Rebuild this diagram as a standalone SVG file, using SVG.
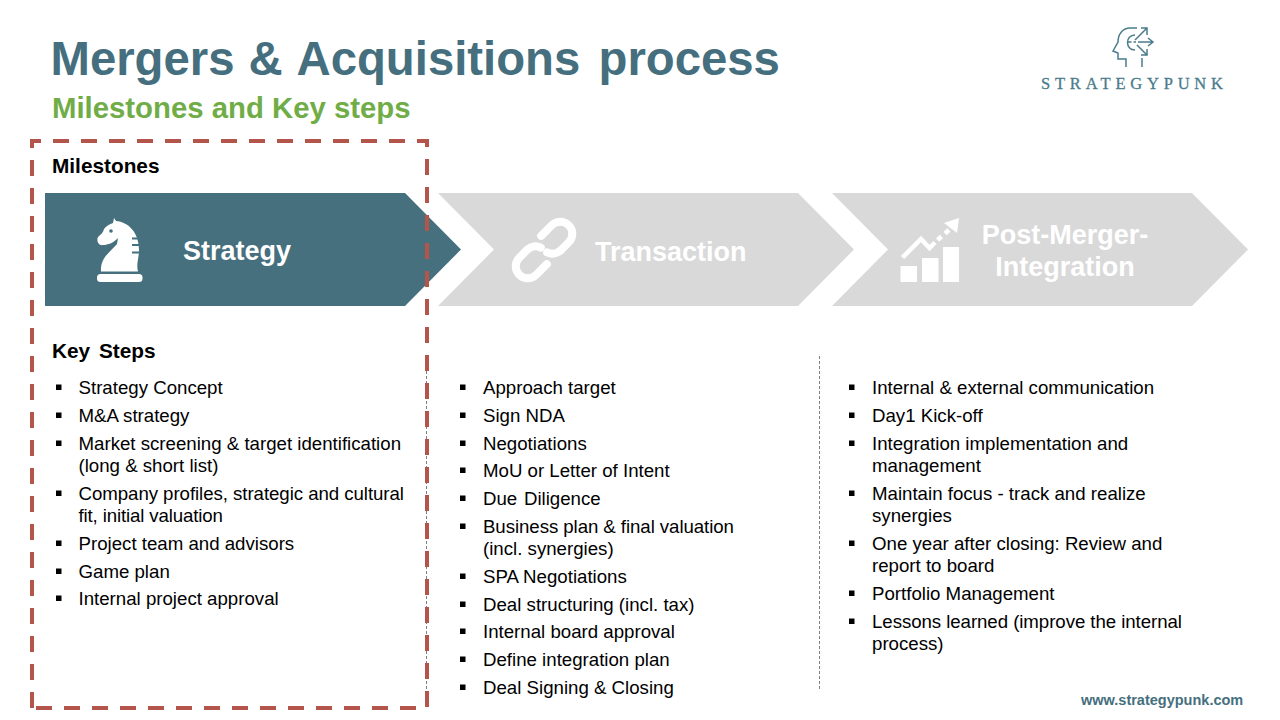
<svg xmlns="http://www.w3.org/2000/svg" xmlns:xlink="http://www.w3.org/1999/xlink" width="1280" height="720" viewBox="0 0 1280 720">
<style>
text{font-family:"Liberation Sans",Arial,sans-serif}
.b{font-size:18.67px;fill:#000}
.h{font-size:20.8px;font-weight:bold;fill:#000}
.w{font-size:27px;font-weight:bold;fill:#fff}
.gl{fill:#D9D9D9}
.div{stroke:#7F7F7F;stroke-width:1;stroke-dasharray:3 2;fill:none}
</style>
<defs><rect id="bu" width="5.500" height="5.500" fill="#000"/></defs>
<rect width="1280" height="720" fill="#fff"/>
<g id="title">
<text y="74.500" font-size="47.300" font-weight="bold" fill="#456F7E"><tspan x="50.500">Mergers </tspan><tspan x="248.500">&amp; </tspan><tspan x="296.500">Acquisitions </tspan><tspan x="598.500">process</tspan></text>
<text x="52" y="117.500" font-size="29.330" font-weight="bold" fill="#70AD47">Milestones and Key steps</text>
</g>
<g id="logo" fill="none" stroke="#4A7C8C" stroke-width="1.500">
<path d="M1126 67V59H1118V53L1113 51L1118 42C1118 34 1123 28 1130 28H1137M1142 58V67"/>
<path d="M1135 35C1125 35 1125 50 1135 50M1128 42H1131.500M1133.500 42H1136"/>
<path d="M1138 42H1153M1135 40L1147 28M1137 45L1147 55M1141 28H1147V35M1148 38L1153 42L1148 46M1147 49V55H1141"/>
<text x="1041" y="89" fill="#4A7C8C" stroke="#4A7C8C" stroke-width="0.300" textLength="182" style="font-family:'Liberation Serif',serif;font-size:16.500px">STRATEGYPUNK</text>
</g>
<path id="divider-1" class="div" d="M426.500 356V691"/>
<text id="milestones-label" class="h" x="52" y="173">Milestones</text>
<g id="strategy">
<path d="M45 193H405L461 249.500L405 306H45Z" fill="#46707E"/>
<rect x="97" y="274" width="45.500" height="8" rx="3.500" fill="#fff"/>
<path d="M114 218L116 221C128 222 139 232 139 250C139 258 136 264 138 271.500H101C100 258 110 252 117 244L118 238C113 243 108 245 103 245C99 246 96 241 98 237C101 234 103 233 104 229C106 226 110 224 113 223Z" fill="#fff"/>
<circle cx="111" cy="231" r="1.800" fill="#46707E"/>
<path d="M132 238.500H140M132 245H140M132 252.500H140" stroke="#46707E" stroke-width="1.800"/>
<text class="w" x="183" y="259.500">Strategy</text>
</g>
<g id="transaction">
<path class="gl" d="M438 193H798L854 249.500L798 306H438L494 249.500Z"/>
<g fill="none" stroke="#fff" stroke-width="8" stroke-linecap="round" transform="translate(544 250)rotate(-45)">
<path d="M8 -12H23A12 12 0 0 1 23 12H11A12 12 0 0 1 0.500 4"/>
<path d="M-8 12H-23A12 12 0 0 1 -23 -12H-11A12 12 0 0 1 -0.500 -4"/>
</g>
<text class="w" x="595" y="261">Transaction</text>
</g>
<g id="post-merger-integration">
<path class="gl" d="M832 193H1192L1248 249.500L1192 306H832L888 249.500Z"/>
<g fill="#fff">
<rect x="900.500" y="266" width="16.500" height="16"/><rect x="922" y="258" width="16.500" height="24"/><rect x="943" y="247" width="16" height="35"/>
<path d="M944 223L959 218L957 233Z"/>
</g>
<path d="M902.500 257.500L921 239L929.500 248L935 242.500M937.500 240L941.500 236.500M945 233.500L949 230" fill="none" stroke="#fff" stroke-width="4.500"/>
<text class="w" x="1065" y="243.500" text-anchor="middle">Post-Merger-</text>
<text class="w" x="1065" y="276" text-anchor="middle">Integration</text>
</g>
<g id="milestone-frame"><path d="M32 708V141H427V708H32" fill="none" stroke="#B3554B" stroke-width="4" stroke-dasharray="16 12"/></g>
<text id="key-steps-label" class="h" x="52" y="358" word-spacing="3">Key Steps</text>
<g id="col1">
<use href="#bu" x="56" y="384.500"/><use href="#bu" x="56" y="412.500"/><use href="#bu" x="56" y="440.500"/><use href="#bu" x="56" y="490.500"/><use href="#bu" x="56" y="540.500"/><use href="#bu" x="56" y="568.500"/><use href="#bu" x="56" y="595.500"/>
<text class="b" x="78.500" y="394">Strategy Concept</text>
<text class="b" x="78.500" y="422">M&amp;A strategy</text>
<text class="b" x="78.500" y="450">Market screening &amp; target identification</text>
<text class="b" x="78.500" y="472">(long &amp; short list)</text>
<text class="b" x="78.500" y="500" textLength="325.500">Company profiles, strategic and cultural</text>
<text class="b" x="78.500" y="522" textLength="144.500">fit, initial valuation</text>
<text class="b" x="78.500" y="550">Project team and advisors</text>
<text class="b" x="78.500" y="578">Game plan</text>
<text class="b" x="78.500" y="605">Internal project approval</text>
</g>
<g id="col2">
<use href="#bu" x="460" y="384.500"/><use href="#bu" x="460" y="412.500"/><use href="#bu" x="460" y="440.500"/><use href="#bu" x="460" y="467.500"/><use href="#bu" x="460" y="495.500"/><use href="#bu" x="460" y="523.500"/><use href="#bu" x="460" y="573.500"/><use href="#bu" x="460" y="601.500"/><use href="#bu" x="460" y="628.500"/><use href="#bu" x="460" y="656.500"/><use href="#bu" x="460" y="684.500"/>
<text class="b" x="483" y="394">Approach target</text>
<text class="b" x="483" y="422">Sign NDA</text>
<text class="b" x="483" y="450">Negotiations</text>
<text class="b" x="483" y="477">MoU or Letter of Intent</text>
<text class="b" x="483" y="505" word-spacing="1.500">Due Diligence</text>
<text class="b" x="483" y="533" textLength="251">Business plan &amp; final valuation</text>
<text class="b" x="483" y="555">(incl. synergies)</text>
<text class="b" x="483" y="583">SPA Negotiations</text>
<text class="b" x="483" y="611">Deal structuring (incl. tax)</text>
<text class="b" x="483" y="638">Internal board approval</text>
<text class="b" x="483" y="666">Define integration plan</text>
<text class="b" x="483" y="694">Deal Signing &amp; Closing</text>
</g>
<path id="divider-2" class="div" d="M819.500 356V691"/>
<g id="col3">
<use href="#bu" x="849" y="384.500"/><use href="#bu" x="849" y="412.500"/><use href="#bu" x="849" y="440.500"/><use href="#bu" x="849" y="490.500"/><use href="#bu" x="849" y="540.500"/><use href="#bu" x="849" y="590.500"/><use href="#bu" x="849" y="618.500"/>
<text class="b" x="872" y="394">Internal &amp; external communication</text>
<text class="b" x="872" y="422">Day1 Kick-off</text>
<text class="b" x="872" y="450">Integration implementation and</text>
<text class="b" x="872" y="472">management</text>
<text class="b" x="872" y="500">Maintain focus - track and realize</text>
<text class="b" x="872" y="522">synergies</text>
<text class="b" x="872" y="550">One year after closing: Review and</text>
<text class="b" x="872" y="572">report to board</text>
<text class="b" x="872" y="600">Portfolio Management</text>
<text class="b" x="872" y="628" textLength="310">Lessons learned (improve the internal</text>
<text class="b" x="872" y="650">process)</text>
</g>
<text id="url" x="1081" y="705" font-size="14.500" font-weight="bold" fill="#456F7E">www.strategypunk.com</text>
</svg>
